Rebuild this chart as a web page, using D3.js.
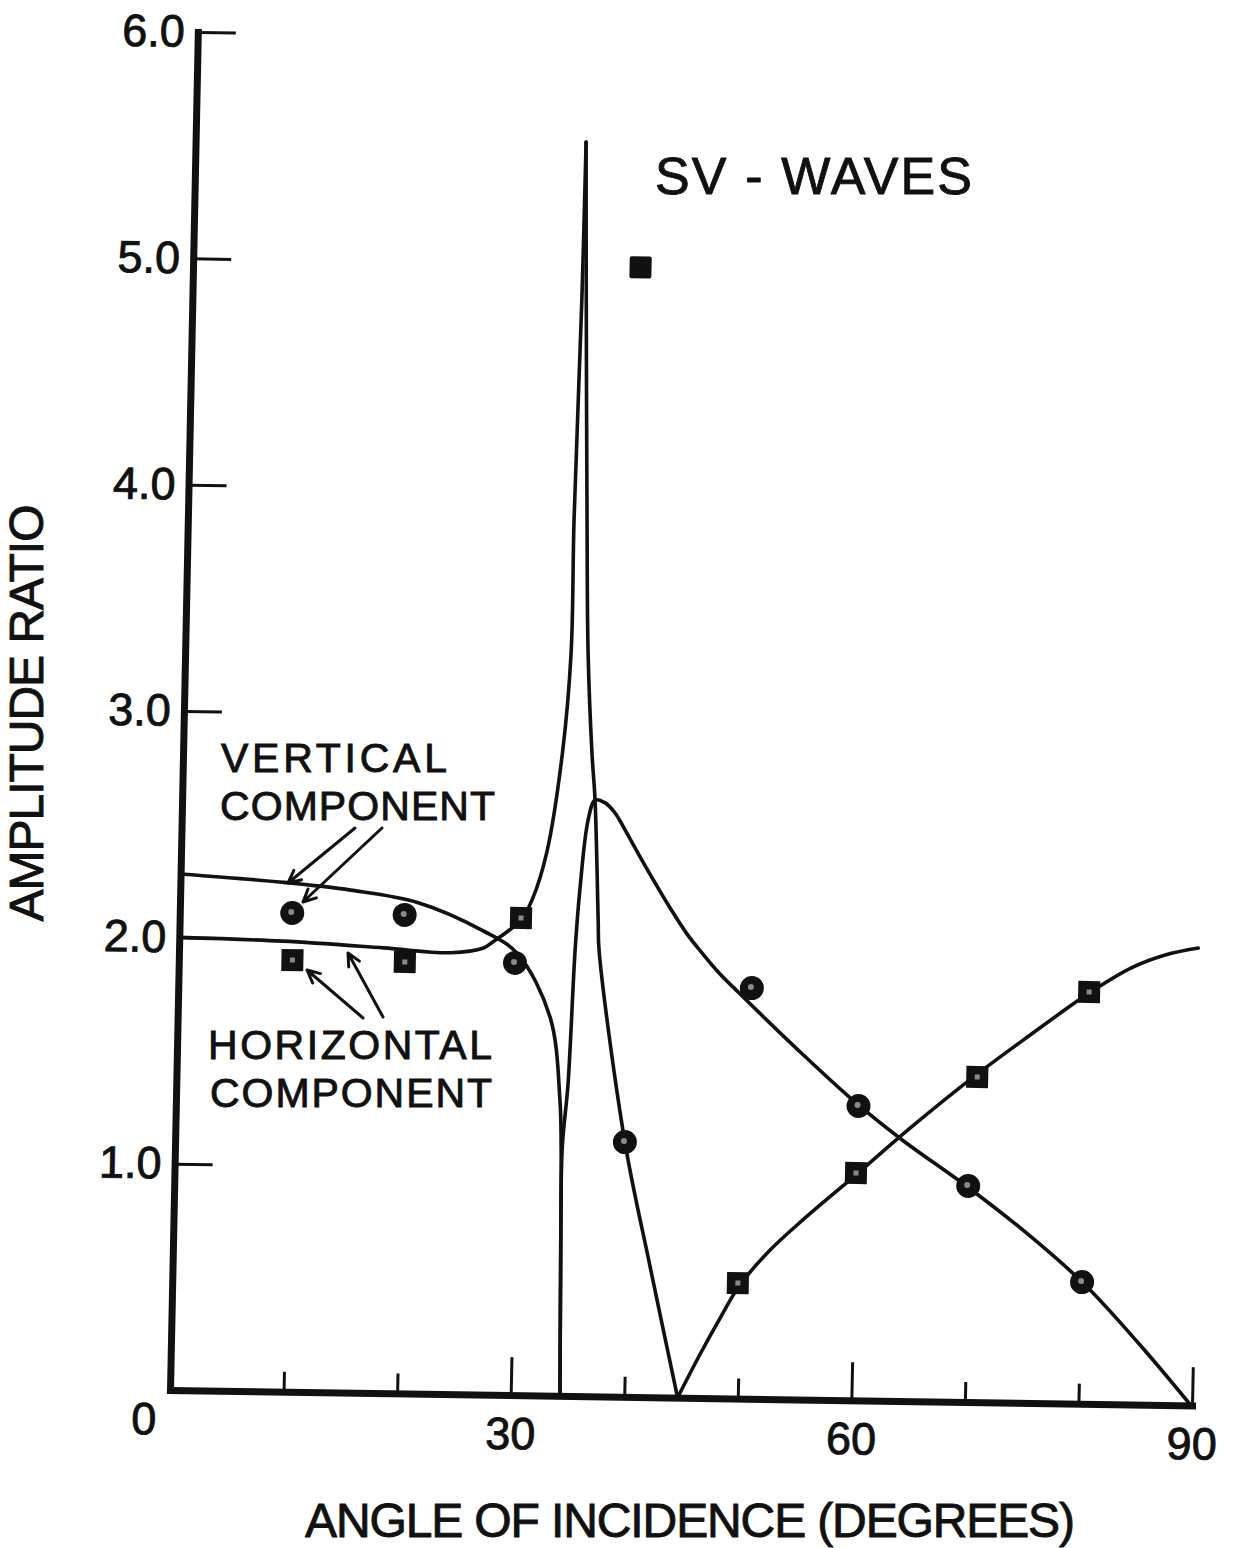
<!DOCTYPE html>
<html>
<head>
<meta charset="utf-8">
<script src="https://cdn.jsdelivr.net/npm/d3@7"></script>
<style>
body { margin: 0; background: #fff; }
text { font-family: "Liberation Sans", Arial, sans-serif; fill: #111; stroke: #111; stroke-width: 0.9px; }
</style>
</head>
<body>
<svg id="chart" width="1247" height="1548"></svg>
<script>
// curves: [angle (deg), amplitude ratio]
var vertBranch1 = [[0, 2.28], [9, 2.25], [15, 2.22], [20.9, 2.17], [26.7, 2.05], [29.8, 1.95],
  [32.8, 1.67], [33.8, 1.31], [34.0, 1.09], [34.17, 0.56], [34.34, 0]];
var vertBranch2 = [[34.34, 0], [34.17, 0.56], [34.09, 1.09], [34.49, 1.38], [34.87, 1.97], [35.2, 2.25],
  [35.78, 2.545], [36.36, 2.634], [37.25, 2.622], [38.14, 2.578], [39.05, 2.504], [40.43, 2.385],
  [41.79, 2.272], [43.16, 2.162], [44.7, 2.048], [46.06, 1.965], [47.5, 1.883], [49.39, 1.791],
  [54.69, 1.543], [59.98, 1.309], [64.01, 1.153], [69.73, 0.954], [75.0, 0.755], [80.2, 0.533],
  [85.34, 0.262], [89.9, 0]];
var horizBranch1 = [[0, 2.0], [9.1, 1.99], [18, 1.967], [23.9, 1.95], [26.8, 1.973], [27.6, 2.0],
  [30.05, 2.1], [31.0, 2.19], [32.2, 2.40], [33.4, 2.84], [33.98, 3.28], [34.0, 3.87], [34.29, 4.84], [34.38, 5.54]];
var horizBranch2 = [[34.38, 5.54], [34.68, 4.84], [35.13, 3.9], [35.48, 3.28], [36.0, 2.84], [36.36, 2.63],
  [36.85, 2.1], [36.98, 1.97], [39.6, 1.125], [42.05, 0.575], [44.7, 0]];
var horizBranch3 = [[44.7, 0], [46.61, 0.194], [48.3, 0.354], [49.92, 0.497], [52.58, 0.658], [55.6, 0.802],
  [60.1, 1.0], [64.6, 1.202], [70.4, 1.445], [75.09, 1.625], [80.2, 1.814], [83.87, 1.928],
  [86.83, 1.987], [89.73, 2.02]];

// measured points
var vertAngles = [9.9, 19.8, 29.6, 39.6, 50.5, 60.1, 69.9, 80.1];
var vertRatios = [2.115, 2.114, 1.909, 1.125, 1.814, 1.30, 0.954, 0.537];
var horizAngles = [10.0, 19.9, 30.05, 49.8, 60.0, 70.5, 80.2];
var horizRatios = [1.907, 1.906, 2.108, 0.51, 1.004, 1.436, 1.819];
var oddAngles = [39.4];
var oddRatios = [4.99];

var yTicks = [1, 2, 3, 4, 5, 6];
var xMajor = [0, 30, 60, 90];
var xMinor = [10, 20, 40, 50, 70, 80];

var svg = d3.select("#chart");
var x = d3.scaleLinear().domain([0, 90]).range([170, 1192]);
var y = d3.scaleLinear().domain([0, 6]).range([1390, 32]);

// the drawing is slightly skewed (hand-ruled axes)
var leanX = -0.0205, leanY = 0.015;
var g = svg.append("g")
  .attr("transform", "matrix(1," + leanY + "," + leanX + ",1," + (-leanX * 1390) + "," + (-leanY * 170) + ")");

var yAxis = g.append("g")
  .attr("transform", "translate(" + x(0) + ",0)")
  .call(d3.axisLeft(y).tickValues(yTicks).tickFormat(d3.format(".1f"))
    .tickSizeInner(-38).tickSizeOuter(0).tickPadding(13));

var xAxis = g.append("g")
  .attr("transform", "translate(0," + y(0) + ")")
  .call(d3.axisBottom(x).tickValues(xMajor).tickFormat(d3.format("d"))
    .tickSizeInner(-38).tickSizeOuter(0).tickPadding(22));
xAxis.selectAll(".tick").filter(function(d) { return d === 0; })
  .each(function() {
    d3.select(this).select("line").remove();
    d3.select(this).select("text").attr("dx", -26).attr("dy", "0.5em");
  });

var xMinorAxis = g.append("g")
  .attr("transform", "translate(0," + y(0) + ")")
  .call(d3.axisBottom(x).tickValues(xMinor).tickFormat("").tickSizeInner(-20).tickSizeOuter(0));
xMinorAxis.select(".domain").remove();

g.selectAll(".domain").attr("stroke", "#111").attr("stroke-width", 7).attr("stroke-linecap", "square");
g.selectAll(".tick line").attr("stroke", "#111").attr("stroke-width", 3);
g.selectAll(".tick text").attr("font-size", 45).style("fill", "#111");
yAxis.attr("font-family", null).attr("font-size", null);
xAxis.attr("font-family", null).attr("font-size", null);

var line = d3.line()
  .x(function(d) { return x(d[0]); })
  .y(function(d) { return y(d[1]); })
  .curve(d3.curveCatmullRom.alpha(0.5));

var curves = [vertBranch1, vertBranch2, horizBranch1, horizBranch2, horizBranch3];
g.append("g").selectAll("path")
  .data(curves)
  .enter().append("path")
  .attr("d", line)
  .attr("fill", "none")
  .attr("stroke", "#111")
  .attr("stroke-width", 3.6)
  .attr("stroke-linejoin", "round")
  .attr("stroke-linecap", "round");

// circles = vertical component
var vpts = vertAngles.map(function(a, i) { return [a, vertRatios[i]]; });
var cg = g.append("g");
cg.selectAll("circle.pt").data(vpts).enter().append("circle")
  .attr("class", "pt")
  .attr("cx", function(d) { return x(d[0]); })
  .attr("cy", function(d) { return y(d[1]); })
  .attr("r", 12)
  .attr("fill", "#111");
cg.selectAll("circle.spot").data(vpts).enter().append("circle")
  .attr("class", "spot")
  .attr("cx", function(d) { return x(d[0]) - 1; })
  .attr("cy", function(d) { return y(d[1]) - 1; })
  .attr("r", 3)
  .attr("fill", "#8a8a8a");

// squares = horizontal component
var hpts = horizAngles.map(function(a, i) { return [a, horizRatios[i]]; });
var sg = g.append("g");
sg.selectAll("rect.pt").data(hpts).enter().append("rect")
  .attr("class", "pt")
  .attr("x", function(d) { return x(d[0]) - 11; })
  .attr("y", function(d) { return y(d[1]) - 11; })
  .attr("width", 22).attr("height", 22)
  .attr("fill", "#111");
sg.selectAll("rect.spot").data(hpts).enter().append("rect")
  .attr("class", "spot")
  .attr("x", function(d) { return x(d[0]) - 2.5; })
  .attr("y", function(d) { return y(d[1]) - 2.5; })
  .attr("width", 5).attr("height", 5)
  .attr("fill", "#8a8a8a");

var opts = oddAngles.map(function(a, i) { return [a, oddRatios[i]]; });
g.append("g").selectAll("rect").data(opts).enter().append("rect")
  .attr("x", function(d) { return x(d[0]) - 11; })
  .attr("y", function(d) { return y(d[1]) - 11; })
  .attr("width", 22).attr("height", 22)
  .attr("rx", 2)
  .attr("fill", "#111");

// labels
svg.append("text")
  .attr("x", 655).attr("y", 194)
  .attr("font-size", 52)
  .attr("textLength", 317).attr("lengthAdjust", "spacing")
  .text("SV - WAVES");

svg.append("text")
  .attr("transform", "translate(43,713) rotate(-90)")
  .attr("text-anchor", "middle")
  .attr("font-size", 48)
  .attr("textLength", 417).attr("lengthAdjust", "spacing")
  .text("AMPLITUDE RATIO");

svg.append("text")
  .attr("x", 305).attr("y", 1537)
  .attr("font-size", 48)
  .attr("textLength", 770).attr("lengthAdjust", "spacing")
  .text("ANGLE OF INCIDENCE (DEGREES)");

var notes = [
  { t: "VERTICAL", x: 221, y: 772, w: 226 },
  { t: "COMPONENT", x: 220, y: 820, w: 275 },
  { t: "HORIZONTAL", x: 208, y: 1059, w: 284 },
  { t: "COMPONENT", x: 210, y: 1107, w: 282 }
];
svg.selectAll("text.note").data(notes).enter().append("text")
  .attr("class", "note")
  .attr("x", function(d) { return d.x; })
  .attr("y", function(d) { return d.y; })
  .attr("font-size", 41)
  .attr("textLength", function(d) { return d.w; })
  .attr("lengthAdjust", "spacing")
  .text(function(d) { return d.t; });

var arrows = [
  [355, 828, 288, 883],
  [382, 828, 303, 902],
  [363, 1018, 307, 970],
  [383, 1017, 348, 953]
];
var ag = svg.append("g").attr("stroke", "#111").attr("stroke-width", 3).attr("fill", "none")
  .attr("stroke-linecap", "round").attr("stroke-linejoin", "round");
arrows.forEach(function(a) {
  var ang = Math.atan2(a[3] - a[1], a[2] - a[0]);
  var h = 14, s = 0.45;
  var p = "M" + a[0] + "," + a[1] + "L" + a[2] + "," + a[3] +
    "M" + (a[2] - h * Math.cos(ang - s)) + "," + (a[3] - h * Math.sin(ang - s)) +
    "L" + a[2] + "," + a[3] +
    "L" + (a[2] - h * Math.cos(ang + s)) + "," + (a[3] - h * Math.sin(ang + s));
  ag.append("path").attr("d", p);
});
</script>
</body>
</html>
